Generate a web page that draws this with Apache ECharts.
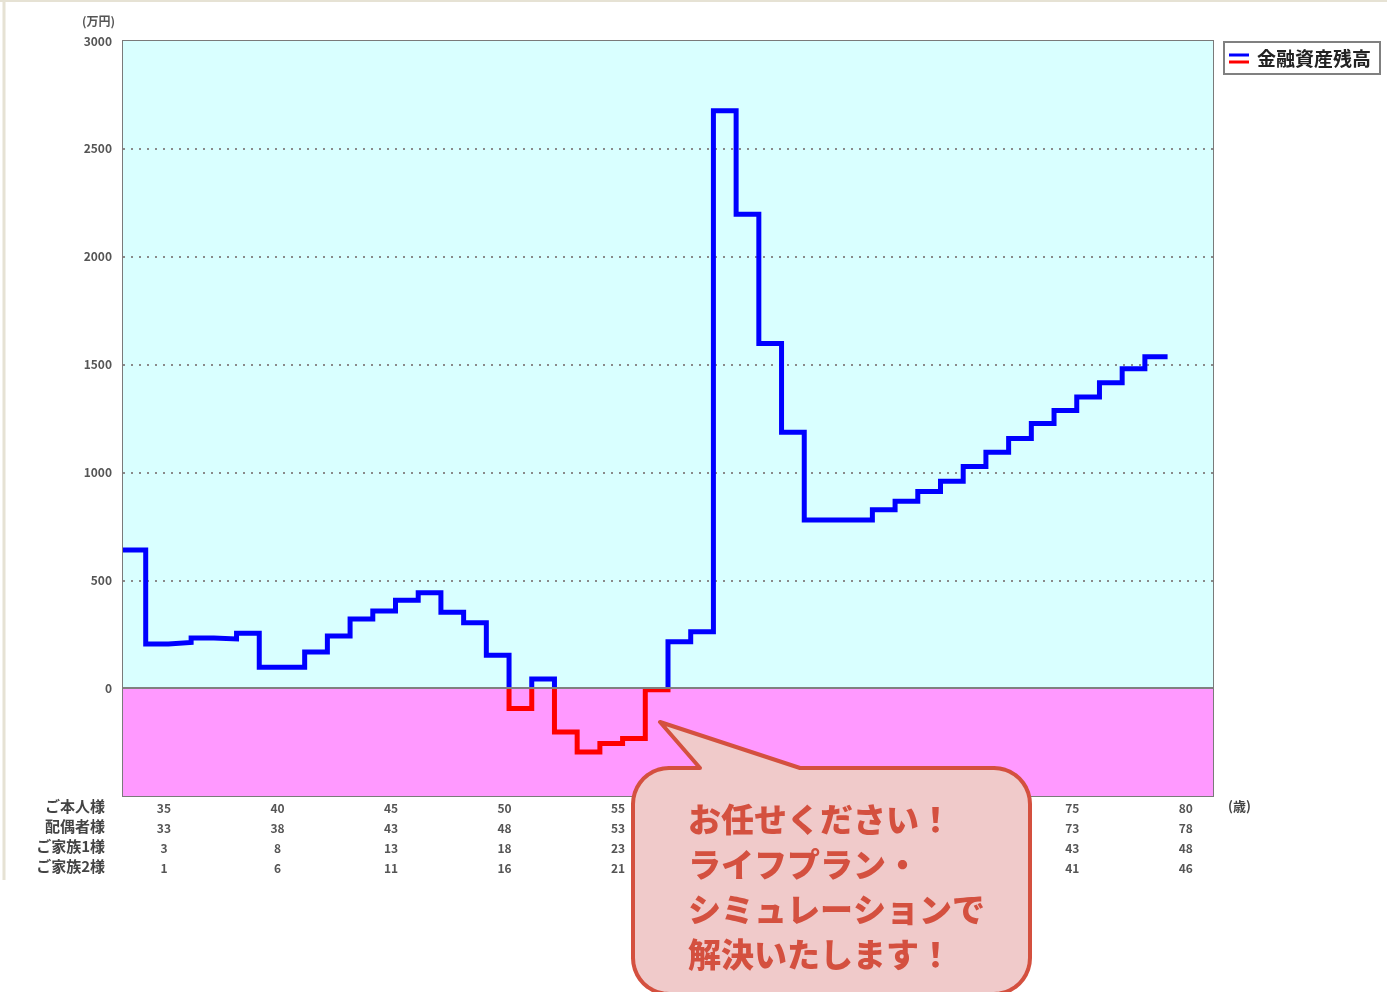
<!DOCTYPE html>
<html>
<head>
<meta charset="utf-8">
<script src="https://cdn.jsdelivr.net/npm/echarts@6/dist/echarts.min.js"></script>
<style>
html,body{margin:0;padding:0;background:#fff;}
#chart{width:1387px;height:992px;}
</style>
</head>
<body>
<div id="chart"></div>
<script>
// slot start ages (each value holds for one year)
const ages = [33,34,35,36,37,38,39,40,41,42,43,44,45,46,47,48,49,50,51,52,53,54,55,56,57,58,59,60,61,62,63,64,65,66,67,68,69,70,71,72,73,74,75,76,77,78];
// 金融資産残高 (万円)
const balance = [640,205,212,232,228,255,97,97,167,242,320,358,408,442,352,303,153,-94,42,-203,-296,-257,-233,-8,215,262,2677,2197,1598,1186,780,780,780,827,866,912,959,1028,1093,1157,1227,1287,1350,1416,1481,1536];
// tick labels
const tickAges = [35,40,45,50,55,60,65,70,75,80];
const spouseAges = [33,38,43,48,53,58,63,68,73,78];
const family1Ages = [3,8,13,18,23,28,33,38,43,48];
const family2Ages = [1,6,11,16,21,26,31,36,41,46];
const rowNames = ['ご本人様','配偶者様','ご家族1様','ご家族2様'];
const yTicks = [0,500,1000,1500,2000,2500,3000];
const seriesName = '金融資産残高';
const calloutLines = ['お任せください！','ライフプラン・','シミュレーションで','解決いたします！'];

const chart = echarts.init(document.getElementById('chart'));
const pts = ages.map((a,i)=>[a, balance[i]]);
pts.push([ages[ages.length-1]+1, balance[balance.length-1]]);

const font = '"Noto Sans CJK JP", "Noto Sans", sans-serif';

// callout outline (rounded box with tail)
function arc(cx, cy, r, a0, a1){
  const out = [];
  for(let k=0;k<=10;k++){
    const a = a0 + (a1-a0)*k/10;
    out.push([cx + r*Math.cos(a), cy + r*Math.sin(a)]);
  }
  return out;
}
const bx0=633, by0=768, bx1=1030, by1=994, br=36;
let calloutPts = [];
calloutPts.push([700,by0],[660,722],[800,by0]);
calloutPts = calloutPts.concat(arc(bx1-br, by0+br, br, -Math.PI/2, 0));
calloutPts = calloutPts.concat(arc(bx1-br, by1-br, br, 0, Math.PI/2));
calloutPts = calloutPts.concat(arc(bx0+br, by1-br, br, Math.PI/2, Math.PI));
calloutPts = calloutPts.concat(arc(bx0+br, by0+br, br, Math.PI, Math.PI*1.5));

const graphics = [];
graphics.push({type:'line', shape:{x1:4,y1:0,x2:4,y2:880}, style:{stroke:'#e6e2d4', lineWidth:3}, z:1});
graphics.push({type:'line', shape:{x1:0,y1:1,x2:1387,y2:1}, style:{stroke:'#e6e2d4', lineWidth:2}, z:1});
rowNames.forEach((n,i)=>{
  graphics.push({type:'text', x:105, y:806+i*20, style:{text:n, fill:'#444', font:'bold 15px '+font, textAlign:'right', textVerticalAlign:'middle'}, z:5});
});
graphics.push({type:'text', x:1228, y:806, style:{text:'(歳)', fill:'#444', font:'bold 13px '+font, textAlign:'left', textVerticalAlign:'middle'}, z:5});
graphics.push({type:'rect', shape:{x:1224,y:42,width:156,height:32}, style:{fill:'#fff', stroke:'#808080', lineWidth:2}, z:5});
graphics.push({type:'line', shape:{x1:1229,y1:55,x2:1249,y2:55}, style:{stroke:'#0000ff', lineWidth:3}, z:6});
graphics.push({type:'line', shape:{x1:1229,y1:62,x2:1249,y2:62}, style:{stroke:'#ff0000', lineWidth:3}, z:6});
graphics.push({type:'text', x:1257, y:59, style:{text:seriesName, fill:'#222', font:'bold 19px '+font, textAlign:'left', textVerticalAlign:'middle'}, z:6});
graphics.push({type:'polygon', shape:{points:calloutPts}, style:{fill:'#f0caca', stroke:'#d4503f', lineWidth:4, lineJoin:'round'}, z:100});
graphics.push({type:'text', x:688, y:797, style:{text:calloutLines.join('\n'), fill:'#d4503f', font:'900 33px '+font, lineHeight:45, textAlign:'left', textVerticalAlign:'top'}, z:101});

chart.setOption({
  animation:false,
  backgroundColor:'#fff',
  textStyle:{fontFamily:font},
  grid:{left:123, right:174, top:41, bottom:196, show:true, borderColor:'#7a7a7a', borderWidth:2, backgroundColor:'transparent'},
  xAxis:{
    type:'value', min:33, max:81,
    axisLine:{show:false, onZero:false}, axisTick:{show:false}, splitLine:{show:false},
    axisLabel:{
      customValues: tickAges,
      margin:2, color:'#555', fontSize:12, fontWeight:'bold', lineHeight:20, padding:[0,9,0,0],
      formatter:function(v){
        const i = tickAges.indexOf(v);
        if(i<0) return '';
        return [tickAges[i], spouseAges[i], family1Ages[i], family2Ages[i]].join('\n');
      }
    }
  },
  yAxis:{
    type:'value', min:-500, max:3000, interval:500,
    name:'(万円)', nameLocation:'end', nameGap:14,
    nameTextStyle:{color:'#555', fontSize:12, align:'right', padding:[0,8,0,0], fontWeight:'bold'},
    axisLine:{show:false}, axisTick:{show:false},
    axisLabel:{color:'#555', fontSize:12, fontWeight:'bold', margin:11, formatter:function(v){return yTicks.indexOf(v)>=0 ? String(v) : '';}},
    splitLine:{show:true, showMinLine:false, showMaxLine:false, lineStyle:{color:'#8a8a8a', type:[2,6], width:2}},
    splitArea:{show:true, areaStyle:{color:['#ff99ff','#d9ffff','#d9ffff','#d9ffff','#d9ffff','#d9ffff','#d9ffff']}}
  },
  visualMap:{
    show:false, type:'piecewise', dimension:1, seriesIndex:0,
    pieces:[{gte:-1000, lt:0, color:'#ff0000'},{gte:0, lte:5000, color:'#0000ff'}]
  },
  series:[{
    name:seriesName, type:'line', step:'end', data:pts, showSymbol:false, symbol:'none',
    lineStyle:{width:5, join:'miter', cap:'butt'},
    markLine:{silent:true, symbol:'none', label:{show:false}, lineStyle:{color:'#808080', type:'solid', width:2}, data:[{yAxis:0}]},
    z:3
  }],
  graphic:{elements:graphics}
});
</script>
</body>
</html>
